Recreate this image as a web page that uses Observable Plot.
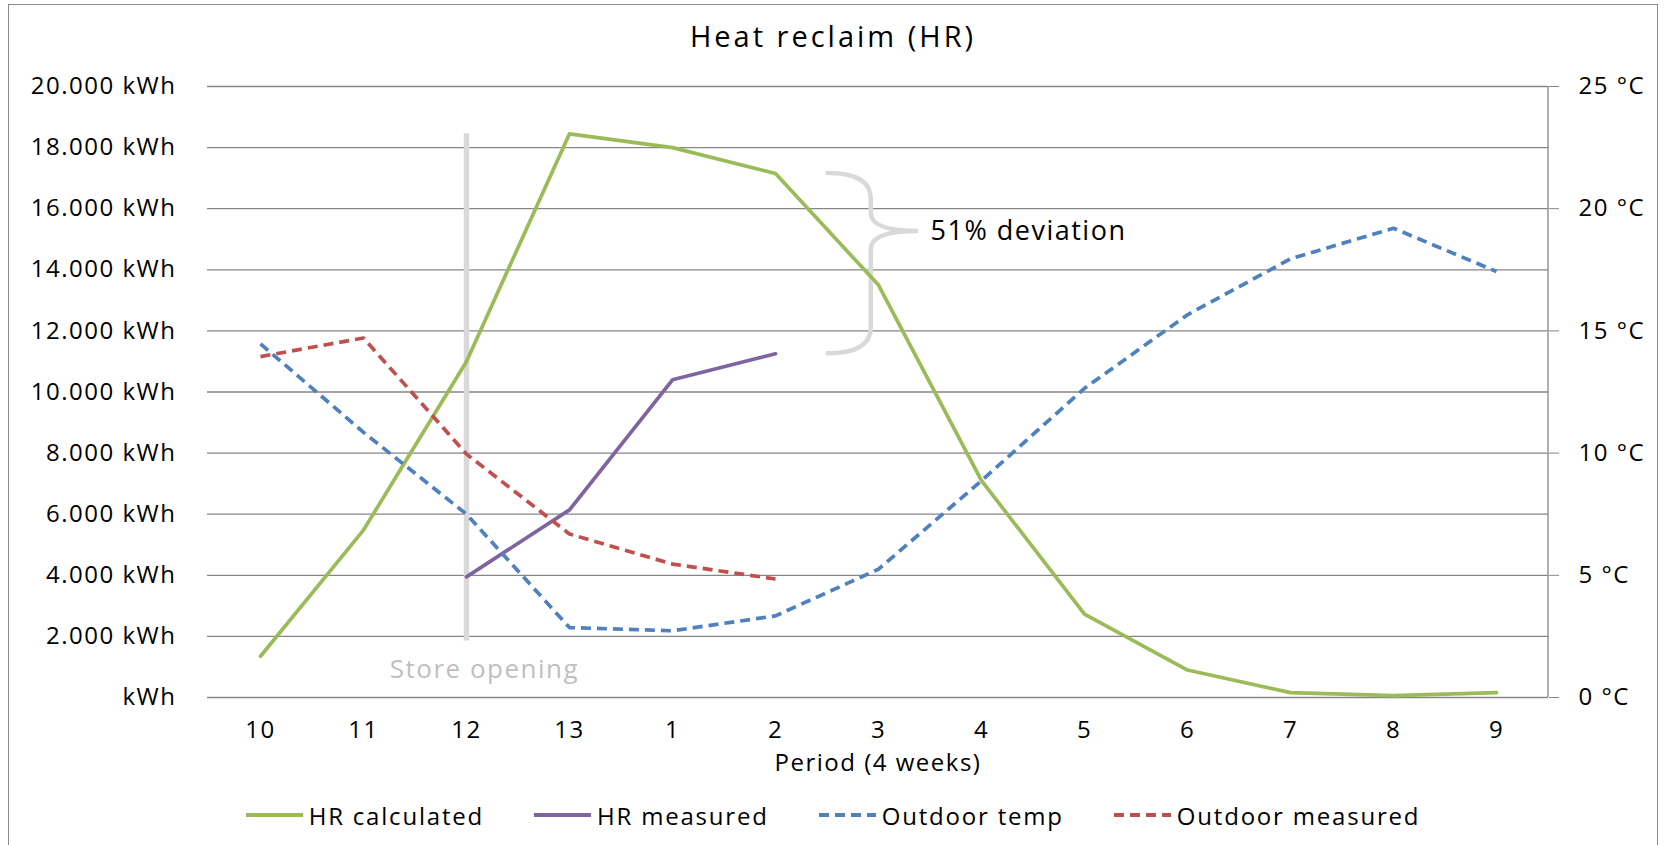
<!DOCTYPE html>
<html>
<head>
<meta charset="utf-8">
<script src="https://cdn.jsdelivr.net/npm/d3@7"></script>
<script src="https://cdn.jsdelivr.net/npm/@observablehq/plot@0.6"></script>
<style>
  html, body { margin: 0; padding: 0; background: #fff; }
  body { width: 1664px; height: 845px; position: relative; overflow: hidden; font-family: "Open Sans", sans-serif; }
  #frame { position: absolute; left: 8px; top: 4px; width: 1650px; height: 880px; border: 1.5px solid #8c8c8c; box-sizing: border-box; }
  #title { position: absolute; left: 8px; width: 1650px; top: 16px; line-height: 40px; text-align: center; font-size: 29px; letter-spacing: 3px; color: #000; }
  #chart { position: absolute; left: 0; top: 62px; }
  #legend { position: absolute; left: 8px; width: 1650px; top: 797px; height: 36px; display: flex; justify-content: center; align-items: center; gap: 50px; font-size: 24px; letter-spacing: 1.8px; color: #000; }
  .item { display: flex; align-items: center; }
  .item svg { margin-right: 6px; }
</style>
</head>
<body>
<div id="frame"></div>
<div id="title"></div>
<div id="chart"></div>
<div id="legend"></div>
<script>
// ---------- data ----------
const chartTitle = "Heat reclaim (HR)";
const xAxisTitle = "Period (4 weeks)";
const periods = ["10", "11", "12", "13", "1", "2", "3", "4", "5", "6", "7", "8", "9"];

// kWh (left axis)
const hrCalculated = [1350, 5480, 11000, 18450, 18000, 17150, 13500, 7100, 2730, 900, 160, 60, 160];
const hrMeasured   = [null, null, 3950, 6140, 10400, 11250, null, null, null, null, null, null, null];

// °C (right axis)
const outdoorTemp     = [14.47, 10.85, 7.5, 2.86, 2.73, 3.34, 5.25, 8.87, 12.65, 15.66, 17.95, 19.2, 17.43];
const outdoorMeasured = [13.95, 14.71, 9.96, 6.69, 5.46, 4.85, null, null, null, null, null, null, null];

const seriesNames  = ["HR calculated", "HR measured", "Outdoor temp", "Outdoor measured"];
const seriesColors = ["#9bbb59", "#8064a2", "#4f81bd", "#c0504d"];
const seriesDashed = [false, false, true, true];

const kwhTicks  = [0, 2000, 4000, 6000, 8000, 10000, 12000, 14000, 16000, 18000, 20000];
const tempTicks = [0, 5, 10, 15, 20, 25];
const kwhMax = 20000, tempMax = 25;

// annotations
const storeOpening = [{period: "12", from: 1850, to: 18450, label: "Store opening"}];
const deviation = {period: "2", next: "3", from: 17150, to: 11250, tip: 15250, label: "51% deviation"};

// ---------- build ----------
const perKwh = kwhMax / tempMax; // map °C onto the kWh scale
function rows(values, isTemp) {
  return periods.map((p, i) => ({period: p, v: values[i] == null ? null : (isTemp ? values[i] * perKwh : values[i])}))
    .filter(d => d.v != null);
}
const seriesData = [rows(hrCalculated, false), rows(hrMeasured, false), rows(outdoorTemp, true), rows(outdoorMeasured, true)];

const fmtKwh = d => d === 0 ? "kWh" : d3.format(",")(d).replace(/,/g, ".") + " kWh";
const fmtTemp = d => (d / perKwh) + " °C";

function rightAxisLine(index, scales, values, dims) {
  const x = dims.width - dims.marginRight;
  return d3.create("svg:line")
    .attr("x1", x).attr("x2", x)
    .attr("y1", dims.marginTop).attr("y2", dims.height - dims.marginBottom)
    .attr("stroke", "#868686").attr("stroke-width", 1.3).node();
}

function brace(index, scales) {
  const x = scales.x, y = scales.y;
  const x0 = x(deviation.period);
  const step = x(deviation.next) - x0;
  const xl = x0 + 0.51 * step, xv = x0 + 0.93 * step, xt = x0 + 1.39 * step;
  const yTop = y(deviation.from), yBot = y(deviation.to), yTip = y(deviation.tip);
  const r = 26;
  const d = `M${xl},${yTop} Q${xv},${yTop} ${xv},${yTop + r} L${xv},${yTip - 18} Q${xv},${yTip} ${xt},${yTip} Q${xv},${yTip} ${xv},${yTip + 18} L${xv},${yBot - r} Q${xv},${yBot} ${xl},${yBot}`;
  return d3.create("svg:path").attr("d", d).attr("fill", "none")
    .attr("stroke", "#d9d9d9").attr("stroke-width", 4.5).attr("stroke-linecap", "round").node();
}

const marks = [
  Plot.gridY(kwhTicks, {stroke: "#868686", strokeOpacity: 1, strokeWidth: 1.3}),
  rightAxisLine,
  Plot.axisY({anchor: "left", ticks: kwhTicks, tickFormat: fmtKwh, tickSize: 0, tickPadding: 31, label: null, letterSpacing: 2}),
  Plot.axisY({anchor: "right", ticks: tempTicks.map(t => t * perKwh), tickFormat: fmtTemp, tickSize: 10, tickPadding: 20, stroke: "#868686", label: null}),
  Plot.axisX({tickSize: 0, tickPadding: 23, label: null}),
  Plot.text([xAxisTitle], {text: d => d, frameAnchor: "bottom", dy: 73, letterSpacing: 2}),
  Plot.ruleX(storeOpening, {x: "period", y1: "from", y2: "to", stroke: "#d9d9d9", strokeWidth: 5.5}),
  Plot.text(storeOpening, {x: "period", text: "label", frameAnchor: "bottom", dy: -20, dx: 18, fill: "#bfbfbf", fontSize: 26, letterSpacing: 2}),
  brace,
  Plot.text([deviation], {x: "period", y: "tip", text: "label", textAnchor: "start", dx: 155, fontSize: 27, letterSpacing: 1.8}),
  ...seriesData.map((data, i) => Plot.line(data, {
    x: "period", y: "v", stroke: seriesColors[i], strokeWidth: 3.7,
    strokeDasharray: seriesDashed[i] ? "10,6" : null, strokeLinecap: seriesDashed[i] ? "butt" : "round", strokeLinejoin: "round"
  }))
];

const chart = Plot.plot({
  width: 1664, height: 720,
  marginLeft: 207, marginRight: 116, marginTop: 24, marginBottom: 85,
  style: {fontFamily: "Open Sans", fontSize: "24px", color: "#000", letterSpacing: "1.5px", background: "transparent", overflow: "visible"},
  x: {type: "point", domain: periods, padding: 0.5, axis: null},
  y: {domain: [0, kwhMax], axis: null},
  marks
});
document.getElementById("chart").appendChild(chart);
document.getElementById("title").textContent = chartTitle;

const legend = document.getElementById("legend");
seriesNames.forEach((name, i) => {
  const item = document.createElement("div");
  item.className = "item";
  const dash = seriesDashed[i] ? 'stroke-dasharray="10,6"' : "";
  item.innerHTML = `<svg width="57" height="10"><line x1="0" x2="57" y1="5" y2="5" stroke="${seriesColors[i]}" stroke-width="4" ${dash}/></svg><span>${name}</span>`;
  legend.appendChild(item);
});
</script>
</body>
</html>
